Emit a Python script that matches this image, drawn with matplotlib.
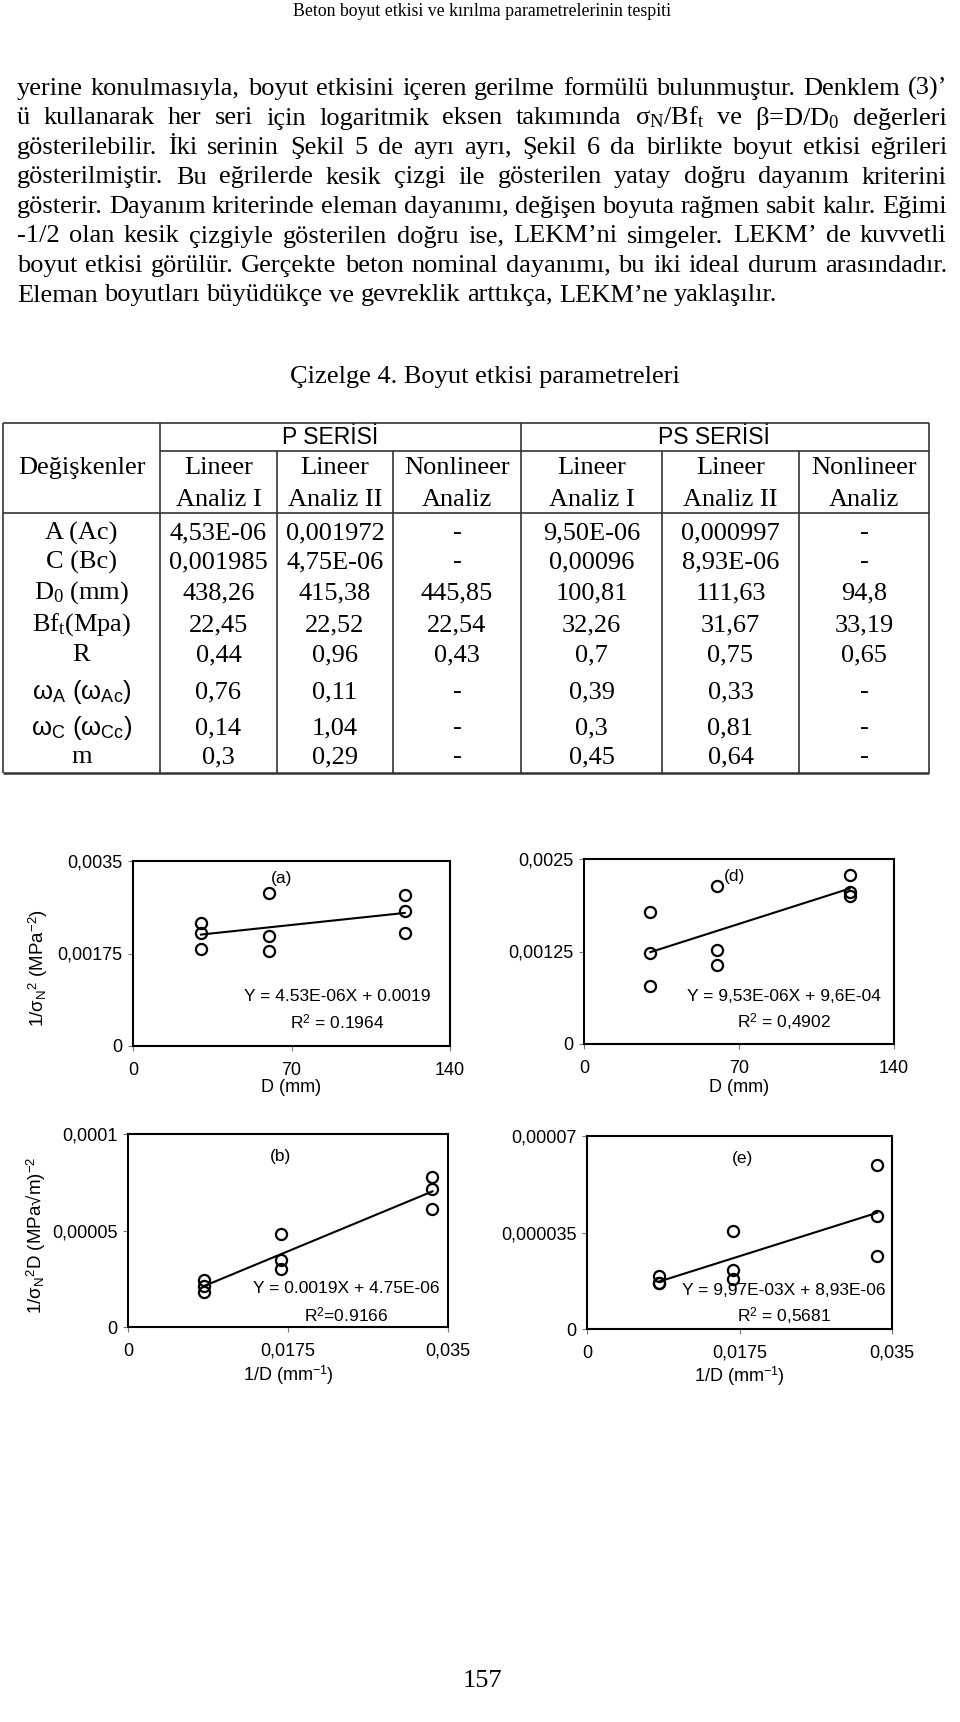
import matplotlib
matplotlib.use('Agg')
import matplotlib.pyplot as plt
import numpy as np

plt.rcParams['font.family'] = ['Liberation Serif', 'DejaVu Serif']
plt.rcParams['mathtext.fontset'] = 'custom'
plt.rcParams['mathtext.rm'] = 'Liberation Serif'
plt.rcParams['mathtext.it'] = 'Liberation Serif:italic'
plt.rcParams['mathtext.sf'] = 'Liberation Sans'

W, H = 960, 1722
SANS = ['Liberation Sans', 'DejaVu Sans']

#
# PAGE TEXT
#
header = 'Beton boyut etkisi ve kırılma parametrelerinin tespiti'
paragraph = [
    'yerine konulmasıyla, boyut etkisini içeren gerilme formülü bulunmuştur. Denklem (3)’',
    'ü kullanarak her seri için logaritmik eksen takımında σ$_\\mathrm{N}$/Bf$_\\mathrm{t}$ ve β=D/D$_0$ değerleri',
    'gösterilebilir. İki serinin Şekil 5 de ayrı ayrı, Şekil 6 da birlikte boyut etkisi eğrileri',
    'gösterilmiştir. Bu eğrilerde kesik çizgi ile gösterilen yatay doğru dayanım kriterini',
    'gösterir. Dayanım kriterinde eleman dayanımı, değişen boyuta rağmen sabit kalır. Eğimi',
    '-1/2 olan kesik çizgiyle gösterilen doğru ise, LEKM’ni simgeler. LEKM’ de kuvvetli',
    'boyut etkisi görülür. Gerçekte beton nominal dayanımı, bu iki ideal durum arasındadır.',
    'Eleman boyutları büyüdükçe ve gevreklik arttıkça, LEKM’ne yaklaşılır.',
]
caption = 'Çizelge 4. Boyut etkisi parametreleri'
page_number = '157'

#
# TABLE DATA
#
series_names = ['P SERİSİ', 'PS SERİSİ']
col_top = ['Lineer', 'Lineer', 'Nonlineer', 'Lineer', 'Lineer', 'Nonlineer']
col_bottom = ['Analiz I', 'Analiz II', 'Analiz', 'Analiz I', 'Analiz II', 'Analiz']
row_labels = ['A (Ac)', 'C (Bc)', 'D$_0$ (mm)', 'Bf$_\\mathrm{t}$(Mpa)', 'R',
              'ω$_\\mathsf{A}$ (ω$_\\mathsf{Ac}$)', 'ω$_\\mathsf{C}$ (ω$_\\mathsf{Cc}$)', 'm']
p_lin1 = ['4,53E-06', '0,001985', '438,26', '22,45', '0,44', '0,76', '0,14', '0,3']
p_lin2 = ['0,001972', '4,75E-06', '415,38', '22,52', '0,96', '0,11', '1,04', '0,29']
p_nonlin = ['-', '-', '445,85', '22,54', '0,43', '-', '-', '-']
ps_lin1 = ['9,50E-06', '0,00096', '100,81', '32,26', '0,7', '0,39', '0,3', '0,45']
ps_lin2 = ['0,000997', '8,93E-06', '111,63', '31,67', '0,75', '0,33', '0,81', '0,64']
ps_nonlin = ['-', '-', '94,8', '33,19', '0,65', '-', '-', '-']

#
# CHART DATA
#
D_mm = [30, 30, 30, 60, 60, 60, 120, 120, 120]
inv_D = [0.0083, 0.0083, 0.0083, 0.0167, 0.0167, 0.0167, 0.0333, 0.0333, 0.0333]
y_a = [0.00233, 0.00214, 0.00183, 0.00290, 0.00208, 0.00179, 0.00286, 0.00255, 0.00213]
y_d = [0.00178, 0.00123, 0.00079, 0.00213, 0.00127, 0.00107, 0.00229, 0.00205, 0.00200]
y_b = [2.42e-5, 2.11e-5, 1.80e-5, 4.84e-5, 3.49e-5, 3.01e-5, 7.77e-5, 7.17e-5, 6.13e-5]
y_e = [1.93e-5, 1.68e-5, 1.68e-5, 3.57e-5, 2.13e-5, 1.80e-5, 5.96e-5, 4.09e-5, 2.66e-5]

xticks_D = [0, 70, 140]
xticklabels_D = ['0', '70', '140']
xticks_inv = [0, 0.0175, 0.035]
xticklabels_inv = ['0', '0,0175', '0,035']
yticks_a = [0, 0.00175, 0.0035]
yticklabels_a = ['0', '0,00175', '0,0035']
yticks_d = [0, 0.00125, 0.0025]
yticklabels_d = ['0', '0,00125', '0,0025']
yticks_b = [0, 0.00005, 0.0001]
yticklabels_b = ['0', '0,00005', '0,0001']
yticks_e = [0, 0.000035, 0.00007]
yticklabels_e = ['0', '0,000035', '0,00007']

fig = plt.figure(figsize=(W / 100, H / 100), dpi=100)
page = fig.add_axes([0, 0, 1, 1])
page.set_xlim(0, W)
page.set_ylim(H, 0)
page.axis('off')
renderer = fig.canvas.get_renderer()

#
# BODY TEXT (justified)
#
LEFT, RIGHT = 17, 947
BODY = 19

def text_line(line, y, justify=True):
    words = line.split(' ')
    objs = [page.text(0, y, w, fontsize=BODY, va='baseline') for w in words]
    widths = [o.get_window_extent(renderer).width for o in objs]
    if justify:
        gap = (RIGHT - LEFT - sum(widths)) / (len(words) - 1)
    else:
        gap = BODY * 100 / 72 * 0.25
    x = LEFT
    for o, w in zip(objs, widths):
        o.set_x(round(x))
        x += w + gap

page.text(482, 12, header, fontsize=12.8, ha='center', va='center')
for i, line in enumerate(paragraph):
    text_line(line, 95 + i * 29.5, justify=(i < len(paragraph) - 1))

page.text(485, 377, caption, fontsize=BODY, ha='center', va='center')

#
# TABLE
#
tx = [3, 160, 277, 393, 521, 662, 799, 929]
lc = '#333333'
page.hlines([423, 513], tx[0], tx[-1], color=lc, lw=1.2)
page.hlines(773, tx[0], tx[-1], color=lc, lw=1.8)
page.hlines(451, tx[1], tx[-1], color=lc, lw=1.2)
page.vlines([tx[0], tx[1], tx[4], tx[7]], 423, 773, color=lc, lw=1.2)
page.vlines([tx[2], tx[3], tx[5], tx[6]], 451, 773, color=lc, lw=1.2)

centers = [(tx[i] + tx[i + 1]) / 2 for i in range(len(tx) - 1)]
page.text(330, 437, series_names[0], fontsize=16.5, family=SANS, ha='center', va='center')
page.text(714, 437, series_names[1], fontsize=16.5, family=SANS, ha='center', va='center')
page.text(centers[0], 468, 'Değişkenler', fontsize=BODY, ha='center', va='center')
for j in range(6):
    page.text(centers[j + 1], 468, col_top[j], fontsize=BODY, ha='center', va='center')
    page.text(centers[j + 1], 500, col_bottom[j], fontsize=BODY, ha='center', va='center')

row_y = [533, 562, 593, 625, 655, 692, 728, 757]
columns = [p_lin1, p_lin2, p_nonlin, ps_lin1, ps_lin2, ps_nonlin]
for i, y in enumerate(row_y):
    if row_labels[i].startswith('ω'):
        page.text(centers[0], y, row_labels[i], fontsize=18.5, family=SANS, ha='center', va='center')
    else:
        page.text(centers[0], y, row_labels[i], fontsize=BODY, ha='center', va='center')
    for j, col in enumerate(columns):
        page.text(centers[j + 1], y, col[i], fontsize=BODY, ha='center', va='center')

page.text(482, 1681, page_number, fontsize=BODY, ha='center', va='center')

#
# CHARTS
#
def panel(left, top, right, bottom, xs, ys, xticks, xticklabels, yticks, yticklabels):
    ax = fig.add_axes([left / W, 1 - bottom / H, (right - left) / W, (bottom - top) / H])
    ax.plot(xs, ys, 'o', mfc='none', mec='black', ms=8, mew=1.6, zorder=3, clip_on=False)
    k, c = np.polyfit(xs, ys, 1)
    xl = np.array([min(xs), max(xs)])
    ax.plot(xl, k * xl + c, color='black', lw=1.5)
    ax.set_xlim(xticks[0], xticks[-1])
    ax.set_ylim(yticks[0], yticks[-1])
    ax.set_xticks(xticks)
    ax.set_xticklabels(xticklabels, family=SANS, fontsize=13)
    ax.set_yticks(yticks)
    ax.set_yticklabels(yticklabels, family=SANS, fontsize=13)
    ax.tick_params(axis='x', direction='out', length=3.5, width=0.8, color='#777777', pad=8)
    ax.tick_params(axis='y', direction='out', length=3.5, width=0.8, color='#777777', pad=4)
    for s in ax.spines.values():
        s.set_linewidth(1.5)
        s.set_color('black')
    return ax

def notes(ax, tag, tx_, ty_, eq, r2, ex, ey, ry):
    ax.text(tx_, ty_, tag, transform=ax.transAxes, family=SANS, fontsize=12.5, ha='center', va='center')
    ax.text(ex, ey, eq, transform=ax.transAxes, family=SANS, fontsize=12.5, ha='center', va='center')
    ax.text(ex, ry, r2, transform=ax.transAxes, family=SANS, fontsize=12.5, ha='center', va='center')

# (a)
ax = panel(133, 861, 450, 1046, D_mm, y_a, xticks_D, xticklabels_D, yticks_a, yticklabels_a)
notes(ax, '(a)', 0.469, 0.908, 'Y = 4.53E-06X + 0.0019', 'R$^\\mathsf{2}$ = 0.1964', 0.644, 0.266, 0.126)
ax.set_xlabel('D (mm)', family=SANS, fontsize=13, va='center')
ax.xaxis.set_label_coords(0.5, -0.222)
ax.set_ylabel('1/σ$_\\mathsf{N}$$^\\mathsf{2}$ (MPa$^\\mathsf{-2}$)', family=SANS, fontsize=13.5, va='center')
ax.yaxis.set_label_coords(-0.30, 0.42)

# (d)
ax = panel(584, 859, 894, 1044, D_mm, y_d, xticks_D, xticklabels_D, yticks_d, yticklabels_d)
notes(ax, '(d)', 0.486, 0.906, 'Y = 9,53E-06X + 9,6E-04', 'R$^\\mathsf{2}$ = 0,4902', 0.644, 0.256, 0.115)
ax.set_xlabel('D (mm)', family=SANS, fontsize=13, va='center')
ax.xaxis.set_label_coords(0.5, -0.233)

# (b)
ax = panel(128, 1134, 448, 1327, inv_D, y_b, xticks_inv, xticklabels_inv, yticks_b, yticklabels_b)
notes(ax, '(b)', 0.477, 0.884, 'Y = 0.0019X + 4.75E-06', 'R$^\\mathsf{2}$=0.9166', 0.683, 0.197, 0.06)
ax.set_xlabel('1/D (mm$^\\mathsf{-1}$)', family=SANS, fontsize=13, va='center')
ax.xaxis.set_label_coords(0.5, -0.252)
ax.set_ylabel('1/σ$_\\mathsf{N}$$^\\mathsf{2}$D (MPa√m)$^\\mathsf{-2}$', family=SANS, fontsize=13.5, va='center')
ax.yaxis.set_label_coords(-0.286, 0.475)

# (e)
ax = panel(587, 1136, 892, 1329, inv_D, y_e, xticks_inv, xticklabels_inv, yticks_e, yticklabels_e)
notes(ax, '(e)', 0.511, 0.884, 'Y = 9,97E-03X + 8,93E-06', 'R$^\\mathsf{2}$ = 0,5681', 0.645, 0.197, 0.064)
ax.set_xlabel('1/D (mm$^\\mathsf{-1}$)', family=SANS, fontsize=13, va='center')
ax.xaxis.set_label_coords(0.5, -0.244)

plt.savefig('out.png', dpi=100)
